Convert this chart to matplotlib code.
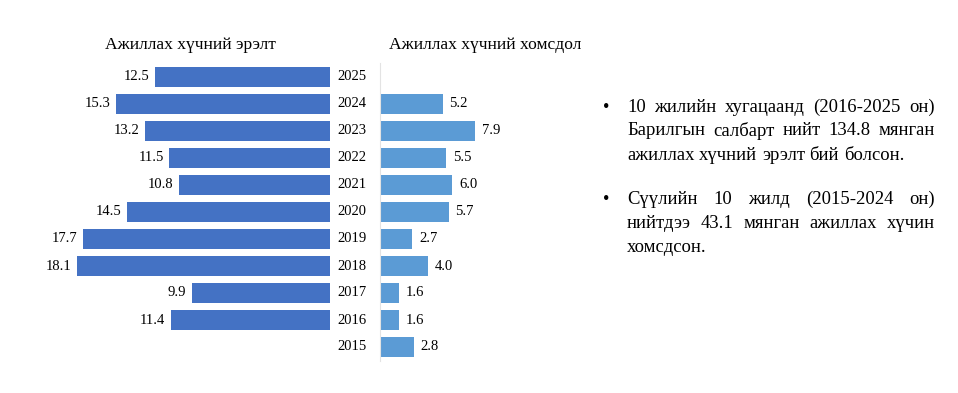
import matplotlib
matplotlib.use("Agg")
from matplotlib import pyplot as plt
import numpy as np

plt.rcParams['font.family'] = ['Liberation Serif', 'DejaVu Serif']

years = ['2015', '2016', '2017', '2018', '2019', '2020', '2021', '2022', '2023', '2024', '2025']
demand = [np.nan, 11.4, 9.9, 18.1, 17.7, 14.5, 10.8, 11.5, 13.2, 15.3, 12.5]
shortage = [2.8, 1.6, 1.6, 4.0, 2.7, 5.7, 6.0, 5.5, 7.9, 5.2, np.nan]
title_left = 'Ажиллах хүчний эрэлт'
title_right = 'Ажиллах хүчний хомсдол'
bullets = [
    [('10 жилийн хугацаанд (2016-2025 он)', True),
     ('Барилгын салбарт нийт 134.8 мянган', True),
     ('ажиллах хүчний эрэлт бий болсон.', False)],
    [('Сүүлийн 10 жилд (2015-2024 он)', True),
     ('нийтдээ 43.1 мянган ажиллах хүчин', True),
     ('хомсдсон.', False)],
]

W, H = 958, 393
fig = plt.figure(figsize=(W / 100, H / 100), dpi=100)
fig.patch.set_facecolor('white')

pos = np.arange(len(years))
bot = (H - 360.5) / H
hgt = 297 / H
lab_fs = 10.5
txt_fs = 13.4

# left panel: demand, bars grow to the left
axl = fig.add_axes([50 / W, bot, 280 / W, hgt])
axl.barh(pos, demand, height=0.75, color='#4472C4')
axl.set_xlim(280 / 13.98, 0)
axl.set_ylim(-0.5, len(years) - 0.5)
axl.axis('off')
for i, v in enumerate(demand):
    if not np.isnan(v):
        axl.annotate(f'{v:.1f}', (v, i), xytext=(-4, 0), textcoords='offset points',
                     ha='right', va='center', fontsize=lab_fs)
    axl.text(1.0786, i, years[i], transform=axl.get_yaxis_transform(),
             ha='center', va='center', fontsize=lab_fs)

# right panel: shortage
axr = fig.add_axes([380 / W, bot, 120 / W, hgt])
axr.barh(pos, shortage, height=0.75, color='#5B9BD5')
axr.set_xlim(0, 120 / 12.03)
axr.set_ylim(-0.5, len(years) - 0.5)
for s in ['top', 'right', 'bottom']:
    axr.spines[s].set_visible(False)
axr.spines['left'].set_color('#E3E3E3')
axr.set_xticks([])
axr.set_yticks([])
axr.patch.set_alpha(0)
for i, v in enumerate(shortage):
    if not np.isnan(v):
        axr.annotate(f'{v:.1f}', (v, i), xytext=(5, 0), textcoords='offset points',
                     ha='left', va='center', fontsize=lab_fs)

fig.text(190 / W, 1 - 45 / H, title_left, ha='center', va='center', fontsize=12.6)
fig.text(485 / W, 1 - 45 / H, title_right, ha='center', va='center', fontsize=12.6)

# bullet text, justified lines
renderer = fig.canvas.get_renderer()
x0, x1 = 627, 935
ys = [[107, 131, 156], [199, 223, 247]]
for b, lines in enumerate(bullets):
    fig.text(606 / W, 1 - ys[b][0] / H, '•', ha='center', va='center', fontsize=txt_fs)
    for j, (line, just) in enumerate(lines):
        y = 1 - ys[b][j] / H
        words = line.split(' ')
        texts = [fig.text(0, y, w, ha='left', va='center', fontsize=txt_fs) for w in words]
        widths = [t.get_window_extent(renderer).width for t in texts]
        a = fig.text(0, 0, 'a a', fontsize=txt_fs)
        c = fig.text(0, 0, 'aa', fontsize=txt_fs)
        sw = a.get_window_extent(renderer).width - c.get_window_extent(renderer).width
        a.remove()
        c.remove()
        gap = (x1 - x0 - sum(widths)) / (len(words) - 1) if just else sw
        x = x0
        for t, w in zip(texts, widths):
            t.set_x(x / W)
            x += w + gap

fig.savefig('out.png', dpi=100)
